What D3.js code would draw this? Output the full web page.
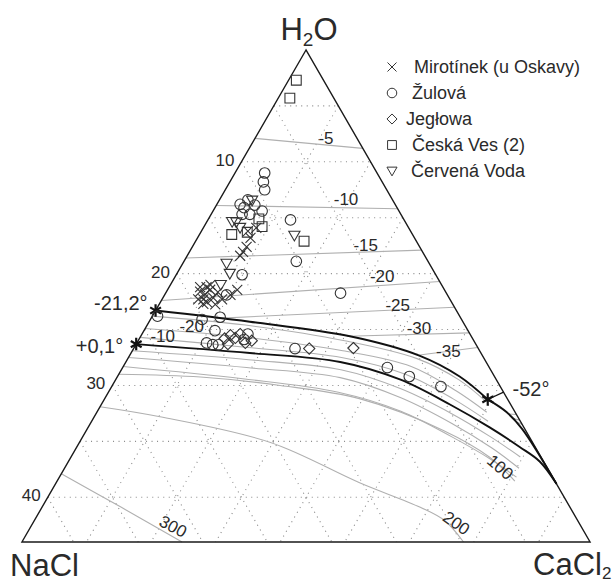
<!DOCTYPE html>
<html>
<head>
<meta charset="utf-8">
<script src="https://cdn.jsdelivr.net/npm/d3@7"></script>
<style>
body { margin: 0; background: #fff; }
svg { font-family: "Liberation Sans", Arial, sans-serif; }
</style>
</head>
<body>
<div id="wrapper"></div>
<script>
// all compositions are [wt% NaCl, wt% CaCl2], the rest is H2O
const saltMax = 44;
const gridSteps = [5, 10, 15, 20, 25, 30, 35, 40];
const edgeTicks = [10, 20, 30, 40];

// ice field isotherms (degC)
const iceTemps = [-5, -10, -15, -20, -25, -30, -35];
const iceLines = [
    [[7.9, 0], [0, 8.8]],
    [[13.9, 0], [0, 14.2]],
    [[18.6, 0], [0, 17.9]],
    [[22.4, 0], [0, 20.7]],
    [[19.0, 5.0], [0, 23.0]],
    [[9.6, 16.0], [0, 25.3]],
    [[5.0, 22.3], [0, 26.6]]
];
const iceLabelAt = [[2.4, 5.5], [3.55, 9.75], [4.1, 13.35], [4.2, 16.0], [4.3, 18.5], [3.7, 21.2], [2.45, 24.5]];

// hydrohalite field isotherms
const hhTemps = [-20, -10];
const hhLines = [
    [[23.8, 0], [17.0, 7.6], [10.0, 16.0], [5.2, 22.4], [2.9, 26.6], [1.8, 29.6]],
    [[24.9, 0], [17.5, 8.2], [10.6, 16.3], [6.0, 22.3], [3.6, 26.9], [2.2, 30.2]],
    [[25.7, 0], [17.8, 8.8], [11.0, 16.5], [6.8, 22.2], [4.2, 27.0], [2.5, 30.7]]
];
const hhLabelAt = [[21.2, 3.5], [23.9, 1.7]];

// halite field isotherms
const haliteTemps = ["", "", "", "100", "200", "300"];
const haliteLines = [
    [[26.9, 0], [18.3, 9.4], [11.6, 17.0], [7.8, 22.5], [5.0, 27.5], [3.0, 31.6], [1.6, 34.8]],
    [[27.5, 0], [18.8, 9.6], [12.0, 17.3], [8.2, 22.9], [5.4, 28.0], [3.4, 32.2], [2.2, 35.2]],
    [[28.3, 0], [19.6, 9.8], [12.8, 17.8], [8.8, 23.5], [6.0, 28.6], [4.0, 32.6], [2.8, 35.4]],
    [[29.0, 0], [22.8, 6.45], [17.0, 13.0], [11.4, 19.8], [6.4, 27.6], [4.0, 32.4], [3.1, 35.45]],
    [[31.9, 0], [27.7, 5.1], [20.3, 14.8], [15.2, 23.5], [11.6, 29.3], [10.3, 31.8], [9.8, 34.2]],
    [[37.9, 0], [34.75, 6.15], [31.6, 12.4]]
];
const haliteLabelAt = [null, null, null, [3.6, 33.7], [9.5, 32.8], [31.6, 11.0]];
const haliteLabelAngle = [0, 0, 0, 40, 35, 28];

// cotectic curves
const cotecticIceHh = [[23.3, 0], [16.5, 7.8], [9.4, 16.2], [4.85, 22.5], [2.7, 26.5], [1.55, 29.7]];
const cotecticHhAnt = [[1.55, 29.7], [0.65, 31.75], [0.2, 33.7], [0, 38.8]];
const cotecticHlHh = [[26.3, 0], [17.9, 9.2], [11.3, 16.6], [7.46, 22.0], [4.7, 27.0], [2.65, 31.1], [1.2, 34.3], [0.3, 36.5], [0, 38.8]];
const antShort = [[[0.55, 32.0], [0, 32.6]], [[0.45, 32.5], [0, 33.1]], [[0.35, 32.9], [0, 33.5]]];

// invariant points
const invariantPts = [[23.3, 0], [26.3, 0], [1.55, 29.7]];
const invariantTexts = ["-21,2°", "+0,1°", "-52°"];
const eutecticEdge = [0, 30.6];

// fluid inclusion samples
const seriesNames = ["Mirotínek (u Oskavy)", "Žulová", "Jegłowa", "Česká Ves (2)", "Červená Voda"];
const mirotinek = [[13.4, 4.2], [13.9, 4.15], [14.3, 4.1], [12.7, 4.1], [16.05, 5.4], [16.8, 5.1], [19.0, 2.6], [18.75, 3.1],
    [18.14, 3.3], [19.1, 3.2], [18.26, 3.9], [18.95, 3.6], [17.65, 4.0], [19.5, 2.8], [18.4, 4.35], [17.65, 4.65], [17.9, 3.1],
    [18.8, 2.4], [12.6, 3.6], [11.8, 4.1], [18.3, 2.9], [19.3, 3.4]];
const zulova = [[8.7, 2.3], [9.2, 2.6], [9.45, 3.05], [11.2, 2.2], [11.85, 2.25], [10.6, 3.8], [12.3, 2.4], [8.8, 6.4], [10.2, 8.7],
    [15.0, 5.1], [8.2, 13.55], [17.1, 4.8], [23.4, 0.4], [18.6, 5.3], [20.1, 4.0], [19.6, 5.5], [14.2, 12.5], [7.9, 20.5], [6.6, 22.6],
    [4.6, 25.5], [20.8, 5.4], [20.4, 5.95], [19.97, 6.4], [17.74, 8.15], [17.2, 8.2], [12.0, 1.8], [10.9, 2.97], [11.7, 3.0]];
const jeglowa = [[13.1, 13.6], [9.66, 17.0], [17.2, 8.8], [19.2, 6.6], [18.6, 6.9], [18.35, 7.4], [17.8, 7.6], [19.2, 7.1], [17.8, 8.4]];
const ceskaVes = [[2.1, 0.6], [3.4, 0.9], [14.0, 2.5], [11.3, 4.5], [11.2, 3.9], [8.7, 8.4], [12.7, 3.6]];
const cervenaVoda = [[9.2, 7.4], [15.7, 3.4], [15.9, 4.1], [17.1, 3.9], [13.1, 2.3], [10.9, 2.55], [13.4, 1.96], [13.05, 2.84]];

function buildPlot() {
    const width = 616, height = 583;
    const apexX = 306, apexY = 50, baseY = 542;
    const half = (baseY - apexY) / Math.sqrt(3);

    // vertical position from total salt, horizontal from CaCl2 - NaCl
    const yScale = d3.scaleLinear().domain([0, saltMax]).range([apexY, baseY]);
    const xScale = d3.scaleLinear().domain([-saltMax, saltMax]).range([apexX - half, apexX + half]);
    const px = (p) => [xScale(p[1] - p[0]), yScale(p[0] + p[1])];

    const line = d3.line().x((d) => px(d)[0]).y((d) => px(d)[1]);
    const curve = d3.line().x((d) => px(d)[0]).y((d) => px(d)[1]).curve(d3.curveCatmullRom.alpha(0.5));

    const svg = d3.select("#wrapper").append("svg")
        .attr("width", width)
        .attr("height", height);

    // dotted grid
    const grid = svg.append("g")
        .attr("fill", "none")
        .attr("stroke", "#8a8a8a")
        .attr("stroke-width", 1.1)
        .attr("stroke-dasharray", "1,4.5");
    gridSteps.forEach((s) => {
        grid.append("path").attr("d", line([[s, 0], [0, s]]));
        grid.append("path").attr("d", line([[s, 0], [s, saltMax - s]]));
        grid.append("path").attr("d", line([[0, s], [saltMax - s, s]]));
    });

    // isotherms
    const iso = svg.append("g")
        .attr("fill", "none")
        .attr("stroke", "#b0b0b0")
        .attr("stroke-width", 1.1);
    iceLines.forEach((d) => iso.append("path").attr("d", line(d)));
    hhLines.forEach((d) => iso.append("path").attr("d", curve(d)));
    haliteLines.forEach((d) => iso.append("path").attr("d", curve(d)));
    antShort.forEach((d) => iso.append("path").attr("d", line(d)));

    // triangle
    svg.append("path")
        .attr("d", line([[0, 0], [saltMax, 0], [0, saltMax]]) + "Z")
        .attr("fill", "none")
        .attr("stroke", "#1a1a1a")
        .attr("stroke-width", 1.4);

    // cotectics
    const cot = svg.append("g")
        .attr("fill", "none")
        .attr("stroke", "#111")
        .attr("stroke-width", 1.9);
    [cotecticIceHh, cotecticHhAnt, cotecticHlHh].forEach((d) => cot.append("path").attr("d", curve(d)));
    cot.append("path").attr("d", line([invariantPts[2], eutecticEdge])).attr("stroke-width", 1.2);

    // labels
    const txt = svg.append("g").attr("fill", "#2a2a2a");
    iceTemps.forEach((t, i) => {
        const p = px(iceLabelAt[i]);
        txt.append("text").attr("x", p[0]).attr("y", p[1]).attr("dy", "0.35em")
            .attr("text-anchor", "middle").attr("font-size", 17).text(t);
    });
    hhTemps.forEach((t, i) => {
        const p = px(hhLabelAt[i]);
        txt.append("text").attr("x", p[0]).attr("y", p[1]).attr("dy", "0.35em")
            .attr("text-anchor", "middle").attr("font-size", 17).text(t);
    });
    haliteTemps.forEach((t, i) => {
        if (!t) return;
        const p = px(haliteLabelAt[i]);
        txt.append("text")
            .attr("transform", `translate(${p[0]},${p[1]}) rotate(${haliteLabelAngle[i]})`)
            .attr("dy", "0.35em")
            .attr("text-anchor", "middle").attr("font-size", 17).text(t);
    });
    edgeTicks.forEach((t) => {
        const p = px([t, 0]);
        txt.append("text").attr("x", p[0] - 7).attr("y", p[1] - 2).attr("dy", "0.35em")
            .attr("text-anchor", "end").attr("font-size", 17).text(t);
    });

    // invariant points
    const star = d3.symbol().type(d3.symbolAsterisk || d3.symbolCross).size(110);
    invariantPts.forEach((d) => {
        const p = px(d);
        svg.append("path").attr("transform", `translate(${p[0]},${p[1]})`)
            .attr("d", star()).attr("stroke", "#111").attr("stroke-width", 2.2).attr("fill", "#111");
    });
    const offs = [[-8, -8, "end"], [-13, 2, "end"], [0, 0, "start"]];
    invariantTexts.forEach((t, i) => {
        let p = px(invariantPts[i]);
        if (i === 2) { p = px(eutecticEdge); p = [p[0] + 9, p[1] - 3]; }
        txt.append("text").attr("x", p[0] + offs[i][0]).attr("y", p[1] + offs[i][1]).attr("dy", "0.35em")
            .attr("text-anchor", offs[i][2]).attr("font-size", 20).text(t);
    });

    // corner labels
    const top = txt.append("text").attr("x", 309).attr("y", 40).attr("text-anchor", "middle").attr("font-size", 31);
    top.append("tspan").text("H");
    top.append("tspan").attr("font-size", 19).attr("dy", 6).text("2");
    top.append("tspan").attr("dy", -6).text("O");
    txt.append("text").attr("x", 10).attr("y", 576).attr("font-size", 31).text("NaCl");
    const right = txt.append("text").attr("x", 533).attr("y", 575).attr("font-size", 31);
    right.append("tspan").text("CaCl");
    right.append("tspan").attr("font-size", 17).attr("dy", 4).text("2");

    // markers
    const shapes = [
        (g) => g.append("path").attr("d", "M-5,-5L5,5M5,-5L-5,5"),
        (g) => g.append("circle").attr("r", 5.3),
        (g) => g.append("path").attr("d", "M0,-5.6L5.6,0L0,5.6L-5.6,0Z"),
        (g) => g.append("path").attr("d", "M-4.9,-4.9H4.9V4.9H-4.9Z"),
        (g) => g.append("path").attr("d", "M-5.6,-4.3H5.6L0,5.4Z")
    ];
    const series = [mirotinek, zulova, jeglowa, ceskaVes, cervenaVoda];
    const marks = svg.append("g").attr("fill", "none").attr("stroke", "#333").attr("stroke-width", 1.1);
    series.forEach((data, k) => {
        data.forEach((d) => {
            const p = px(d);
            shapes[k](marks.append("g").attr("transform", `translate(${p[0]},${p[1]})`));
        });
    });

    // legend
    const legend = svg.append("g").attr("fill", "none").attr("stroke", "#333").attr("stroke-width", 1.1);
    const textX = [414, 412, 406, 412, 411];
    seriesNames.forEach((name, k) => {
        const y = 67 + k * 26;
        shapes[k](legend.append("g").attr("transform", `translate(392,${y}) scale(0.9)`));
        txt.append("text").attr("x", textX[k]).attr("y", y).attr("dy", "0.35em")
            .attr("font-size", 18).text(name);
    });
}

buildPlot();
</script>
</body>
</html>
